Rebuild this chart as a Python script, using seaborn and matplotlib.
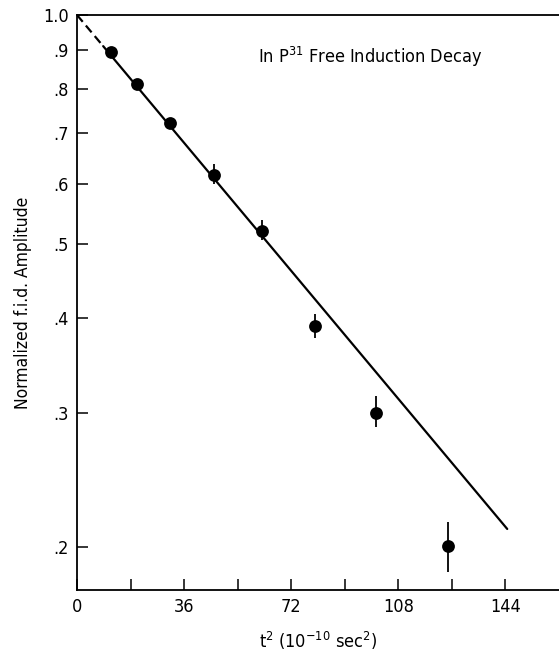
import matplotlib
matplotlib.use("Agg")
import matplotlib.pyplot as plt
import seaborn as sns
import numpy as np
import pandas as pd
from matplotlib.ticker import FixedLocator, NullFormatter, NullLocator

# data
t2 = [11.4, 20.1, 31.4, 46.0, 62.2, 79.9, 100.6, 124.6]
amp = [0.894, 0.811, 0.722, 0.617, 0.520, 0.390, 0.300, 0.2005]
err_lo = [0.0, 0.0, 0.0, 0.018, 0.014, 0.0135, 0.013, 0.015]
err_hi = [0.0, 0.0, 0.0, 0.019, 0.017, 0.014, 0.016, 0.015]
dash_x = [0.0, 8.8]
dash_y = [1.0, 0.910]
fit_x = [8.8, 144.6]
fit_y = [0.910, 0.211]
xticks = [0, 36, 72, 108, 144]
xminor = [18, 54, 90, 126]
yticks = [1.0, 0.9, 0.8, 0.7, 0.6, 0.5, 0.4, 0.3, 0.2]
ylabels = ["1.0", ".9", ".8", ".7", ".6", ".5", ".4", ".3", ".2"]

sns.set_theme(style="white")
plt.rcParams['font.family'] = ['DejaVu Sans']
plt.rcParams['font.stretch'] = 'condensed'
plt.rcParams['mathtext.fontset'] = 'custom'
plt.rcParams['mathtext.rm'] = 'DejaVu Sans:stretch=condensed'

fig = plt.figure(figsize=(5.59, 6.54), dpi=100)
ax = fig.add_axes([77/559, 64/654, 1 - 77/559, (590-15)/654])

df_pts = pd.DataFrame({"t2": t2, "amp": amp})
ax.errorbar(t2, amp, yerr=[err_lo, err_hi], fmt="none", ecolor="black", elinewidth=1.3, capsize=0, zorder=2)
sns.lineplot(x=fit_x, y=fit_y, ax=ax, color="black", linewidth=1.6, zorder=3)
sns.lineplot(x=dash_x, y=dash_y, ax=ax, color="black", linewidth=1.6, linestyle=(0, (4, 2.2)), zorder=3)
sns.scatterplot(data=df_pts, x="t2", y="amp", ax=ax, color="black", s=85, edgecolor="black", linewidth=0, zorder=4)

ax.set_yscale("log")
ax.set_xlim(0, 162)
ax.set_ylim(0.1754, 1.0)
ax.yaxis.set_major_locator(FixedLocator(yticks))
ax.set_yticklabels(ylabels)
ax.yaxis.set_minor_locator(NullLocator())
ax.yaxis.set_minor_formatter(NullFormatter())
ax.set_xticks(xticks)
ax.set_xticks(xminor, minor=True)
ax.tick_params(axis="both", which="both", direction="in", length=8, width=1.1, color="black",
               labelsize=13, pad=6, labelcolor="black")
ax.tick_params(axis="x", which="both", top=False, bottom=True)
ax.tick_params(axis="y", which="both", left=True, right=False)

for s in ["left", "bottom", "top"]:
    ax.spines[s].set_color("black")
    ax.spines[s].set_linewidth(1.3)
ax.spines["right"].set_visible(False)

ax.set_xlabel("t$^{2}$ (10$^{-10}$ sec$^{2}$)", fontsize=13, color="black", labelpad=10)
ax.set_ylabel("Normalized f.i.d. Amplitude", fontsize=12.5, color="black", labelpad=8)
ax.text(258/559, 1 - 57/654, "In P$^{31}$ Free Induction Decay", transform=fig.transFigure,
        fontsize=13, color="black", va="center", ha="left")

fig.savefig("out.png", dpi=100)
